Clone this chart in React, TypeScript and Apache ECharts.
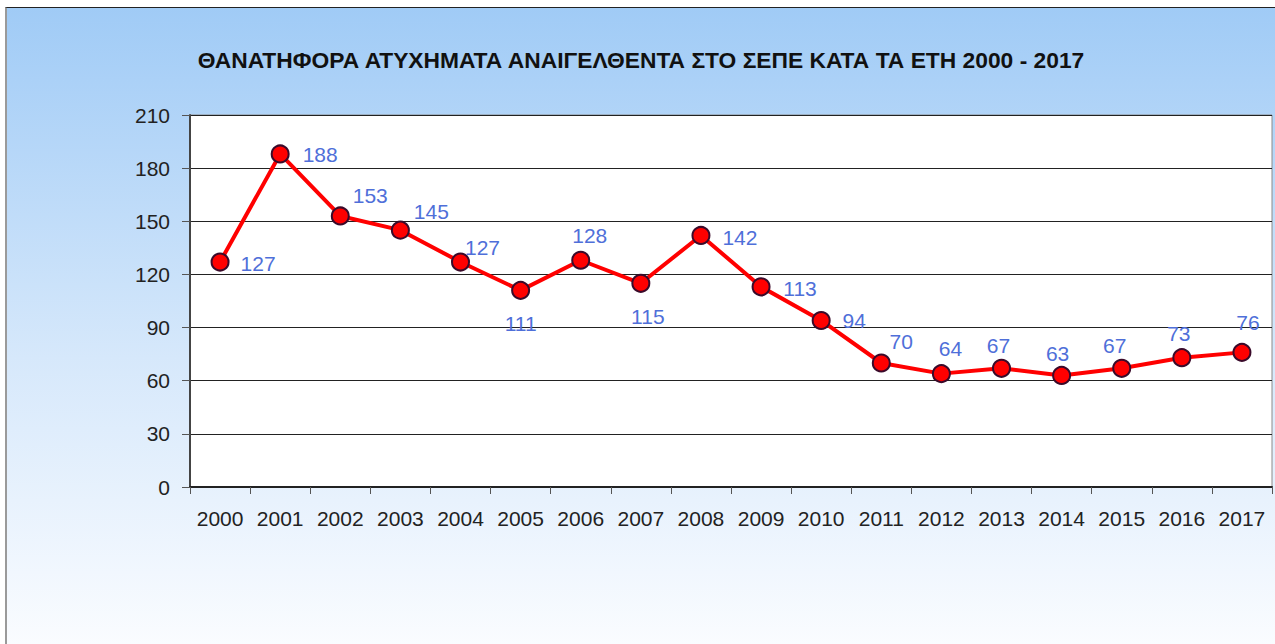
import React, { useEffect, useRef } from "react";
import * as echarts from "echarts";

const TITLE = "ΘΑΝΑΤΗΦΟΡΑ ΑΤΥΧΗΜΑΤΑ ΑΝΑΙΓΕΛΘΕΝΤΑ ΣΤΟ ΣΕΠΕ ΚΑΤΑ ΤΑ ΕΤΗ 2000 - 2017";
const years = [
  "2000", "2001", "2002", "2003", "2004", "2005", "2006", "2007", "2008",
  "2009", "2010", "2011", "2012", "2013", "2014", "2015", "2016", "2017",
];
const accidents = [127, 188, 153, 145, 127, 111, 128, 115, 142, 113, 94, 70, 64, 67, 63, 67, 73, 76];
const yTicks = { min: 0, max: 210, interval: 30 };

// label placement (pixel offsets from the point centre), styling only
const labelOffsets: [number, number][] = [
  [38, 1], [40, 1], [30, -20], [31, -19], [22, -15], [0, 33], [9, -25], [7, 33], [39, 2],
  [39, 2], [33, 0], [20, -22], [9, -25], [-3, -23], [-4, -22], [-7, -23], [-3, -24], [6, -30],
];

export default function App() {
  const ref = useRef<HTMLDivElement>(null);
  useEffect(() => {
    if (!ref.current) return;
    const chart = echarts.init(ref.current, null, { renderer: "svg" });
    const font = "'Liberation Sans', Arial, sans-serif";
    chart.setOption({
      animation: false,
      backgroundColor: new echarts.graphic.LinearGradient(0, 0, 0, 1, [
        { offset: 0, color: "#a0cbf6" },
        { offset: 0.55, color: "#d6e8fb" },
        { offset: 1, color: "#fafcff" },
      ]),
      title: {
        text: TITLE,
        left: "center",
        top: 40,
        padding: 0,
        textStyle: { fontFamily: font, fontSize: 22.8, fontWeight: "bold", color: "#111" },
      },
      grid: {
        left: 183,
        top: 107,
        right: 3,
        bottom: 157,
        show: true,
        backgroundColor: "#ffffff",
        borderColor: "#8a8a8a",
        borderWidth: 1,
      },
      xAxis: {
        type: "category",
        data: years,
        boundaryGap: true,
        axisLine: { lineStyle: { color: "#222", width: 2 } },
        axisTick: { show: true, interval: 0, length: 7, lineStyle: { color: "#555" } },
        axisLabel: { fontFamily: font, fontSize: 21, color: "#222", margin: 21, interval: 0 },
      },
      yAxis: {
        type: "value",
        min: yTicks.min,
        max: yTicks.max,
        interval: yTicks.interval,
        axisLine: { show: true, lineStyle: { color: "#444", width: 2 } },
        axisTick: { show: true, length: 8, lineStyle: { color: "#555" } },
        axisLabel: { fontFamily: font, fontSize: 21, color: "#222", margin: 20 },
        splitLine: { show: true, lineStyle: { color: "#222", width: 1 } },
      },
      series: [
        {
          type: "line",
          data: accidents.map((v, i) => ({
            value: v,
            label: { offset: labelOffsets[i] },
          })),
          symbol: "circle",
          symbolSize: 17,
          lineStyle: { color: "#ff0000", width: 4 },
          itemStyle: { color: "#ff0000", borderColor: "#3a0a2a", borderWidth: 2 },
          label: {
            show: true,
            position: "inside",
            fontFamily: font,
            fontSize: 21,
            color: "#4f6fd9",
          },
          z: 5,
        },
      ],
    });
    return () => chart.dispose();
  }, []);
  return (
    <div
      style={{
        position: "absolute",
        left: 5,
        top: 7,
        width: 1270,
        height: 637,
        borderTop: "1px solid #222",
        borderLeft: "2px solid #9a9a9a",
        boxSizing: "border-box",
        overflow: "hidden",
      }}
    >
      <div ref={ref} style={{ position: "absolute", left: 0, top: 0, width: 1268, height: 636 }} />
    </div>
  );
}
